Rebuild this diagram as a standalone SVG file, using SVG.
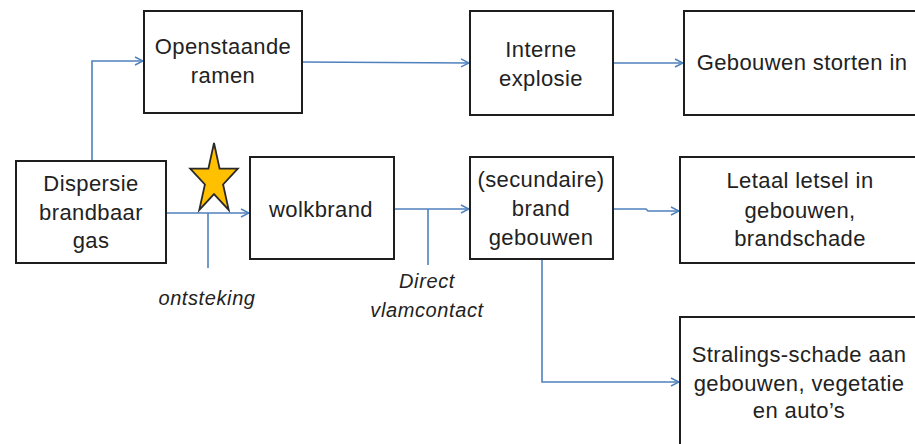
<svg xmlns="http://www.w3.org/2000/svg" width="915" height="444" viewBox="0 0 915 444">
  <defs>
    <marker id="arrow" viewBox="0 0 10 10" refX="9" refY="5" markerWidth="10" markerHeight="10" markerUnits="userSpaceOnUse" orient="auto">
      <path d="M1,1 L9,5 L1,9" fill="none" stroke="#4F81BD" stroke-width="1.5"/>
    </marker>
  </defs>
  <style>
    .box { fill: #fff; stroke: #1e1e1e; stroke-width: 2; }
    .lbl { font-family: "Liberation Sans", Arial, sans-serif; font-size: 22px; letter-spacing: 0.4px; fill: #222; text-anchor: middle; }
    .note { font-family: "Liberation Sans", Arial, sans-serif; font-size: 20px; letter-spacing: 0.6px; font-style: italic; fill: #222; text-anchor: middle; }
    .wire { fill: none; stroke: #4F81BD; stroke-width: 1.6; }
  </style>
  <rect width="915" height="444" fill="#fff"/>

  <!-- connectors -->
  <g id="connectors">
    <polyline class="wire" points="92,161 92,61 143,61" marker-end="url(#arrow)"/>
    <line class="wire" x1="302" y1="62" x2="469" y2="63" marker-end="url(#arrow)"/>
    <line class="wire" x1="613" y1="63" x2="683" y2="63" marker-end="url(#arrow)"/>
    <line class="wire" x1="167" y1="213" x2="249" y2="213" marker-end="url(#arrow)"/>
    <line class="wire" x1="208" y1="213" x2="208" y2="268"/>
    <line class="wire" x1="394" y1="209" x2="469" y2="209" marker-end="url(#arrow)"/>
    <line class="wire" x1="428" y1="209" x2="428" y2="265"/>
    <polyline class="wire" points="613,209 646,209 648,211 679,211" marker-end="url(#arrow)"/>
    <polyline class="wire" points="542,259 542,382 679,382" marker-end="url(#arrow)"/>
  </g>

  <!-- ignition star -->
  <polygon id="ignition" points="214,143 219.6,168.6 237.8,168.6 223.1,184.4 228.7,209.9 214,194.1 199.3,209.9 204.9,184.4 190.2,168.6 208.4,168.6" fill="#FFC000" stroke="#2a2a2a" stroke-width="1.8" stroke-linejoin="miter"/>

  <g id="openstaande-ramen">
    <rect class="box" x="144" y="11" width="158" height="102"/>
    <text class="lbl" x="223" y="54">Openstaande</text>
    <text class="lbl" x="223" y="83">ramen</text>
  </g>

  <g id="interne-explosie">
    <rect class="box" x="470" y="11" width="143" height="104"/>
    <text class="lbl" x="541" y="57">Interne</text>
    <text class="lbl" x="541" y="86">explosie</text>
  </g>

  <g id="gebouwen-storten-in">
    <rect class="box" x="684" y="11" width="240" height="104"/>
    <text class="lbl" x="802" y="70">Gebouwen storten in</text>
  </g>

  <g id="dispersie">
    <rect class="box" x="16" y="161" width="150" height="102"/>
    <text class="lbl" x="91" y="191">Dispersie</text>
    <text class="lbl" x="91" y="220">brandbaar</text>
    <text class="lbl" x="91" y="248">gas</text>
  </g>

  <g id="wolkbrand">
    <rect class="box" x="250" y="157" width="144" height="102"/>
    <text class="lbl" x="321" y="217">wolkbrand</text>
  </g>

  <g id="secundaire-brand">
    <rect class="box" x="470" y="157" width="143" height="102"/>
    <text class="lbl" x="541" y="187">(secundaire)</text>
    <text class="lbl" x="541" y="216">brand</text>
    <text class="lbl" x="541" y="245">gebouwen</text>
  </g>

  <g id="letaal-letsel">
    <rect class="box" x="680" y="157" width="244" height="106"/>
    <text class="lbl" x="800" y="188">Letaal letsel in</text>
    <text class="lbl" x="800" y="218">gebouwen,</text>
    <text class="lbl" x="800" y="246">brandschade</text>
  </g>

  <g id="stralingsschade">
    <rect class="box" x="680" y="317" width="244" height="140"/>
    <text class="lbl" x="799" y="362">Stralings-schade aan</text>
    <text class="lbl" x="799" y="391">gebouwen, vegetatie</text>
    <text class="lbl" x="799" y="418">en auto’s</text>
  </g>

  <!-- connector notes -->
  <text class="note" x="207" y="305">ontsteking</text>
  <text class="note" x="427" y="288">Direct</text>
  <text class="note" x="427" y="317">vlamcontact</text>
</svg>
